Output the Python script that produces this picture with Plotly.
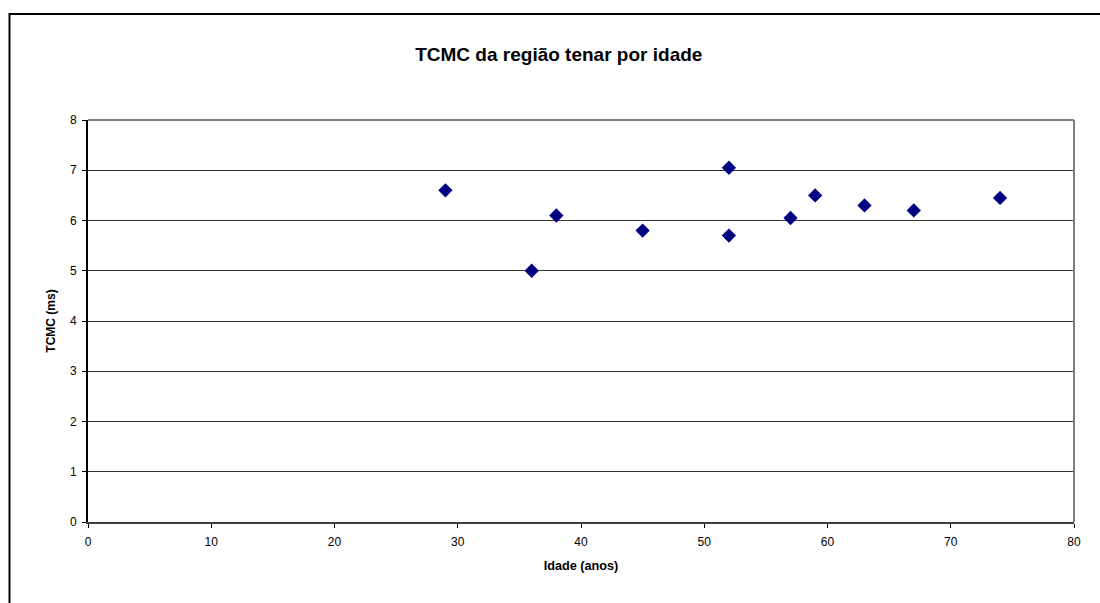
import plotly.graph_objects as go

idade = [29, 36, 38, 45, 52, 52, 57, 59, 63, 67, 74]
tcmc = [6.6, 5.0, 6.1, 5.8, 7.05, 5.7, 6.05, 6.5, 6.3, 6.2, 6.45]

title_text = "TCMC da região tenar por idade"
x_title = "Idade (anos)"
y_title = "TCMC (ms)"

fig = go.Figure()
fig.add_trace(go.Scatter(
    x=idade, y=tcmc, mode="markers",
    marker=dict(symbol="diamond", size=11, color="#000080",
                line=dict(width=0)),
    showlegend=False,
))

font = "Arial, Liberation Sans, sans-serif"
fig.update_layout(
    width=1100, height=603,
    margin=dict(l=88, r=26, t=120, b=81),
    paper_bgcolor="white", plot_bgcolor="white",
    title=dict(text="<b>" + title_text + "</b>", x=0.508, xanchor="center",
               y=1 - 54 / 603, yanchor="middle",
               font=dict(family=font, size=19, color="black")),
    font=dict(family=font, size=12, color="black"),
    xaxis=dict(range=[0, 80], tickvals=list(range(0, 81, 10)),
               showgrid=False, zeroline=False,
               showline=True, linecolor="#404040", linewidth=2,
               ticks="outside", ticklen=4, tickcolor="black",
               tickfont=dict(size=12), ticklabelstandoff=4,
               title=dict(text="<b>" + x_title + "</b>",
                          font=dict(size=12.7), standoff=13)),
    yaxis=dict(range=[0, 8], tickvals=list(range(0, 9)),
               showgrid=True, gridcolor="#333333", gridwidth=1,
               zeroline=False,
               showline=True, linecolor="black", linewidth=2,
               ticks="outside", ticklen=4, tickcolor="black",
               tickfont=dict(size=12), ticklabelstandoff=3,
               title=dict(text="<b>" + y_title + "</b>",
                          font=dict(size=12), standoff=12)),
    shapes=[
        # plot area top / right border (gray)
        dict(type="line", xref="paper", yref="paper", x0=0, x1=1, y0=1, y1=1,
             line=dict(color="#808080", width=2)),
        dict(type="line", xref="paper", yref="paper", x0=1, x1=1, y0=0, y1=1,
             line=dict(color="#808080", width=2)),
        # outer chart border
        dict(type="rect", xref="paper", yref="paper",
             x0=(9.5 - 88) / 986, x1=1.2, y0=-0.5, y1=(522 - 14) / 402,
             line=dict(color="black", width=2), layer="above"),
    ],
)

fig.write_html("out.html")
